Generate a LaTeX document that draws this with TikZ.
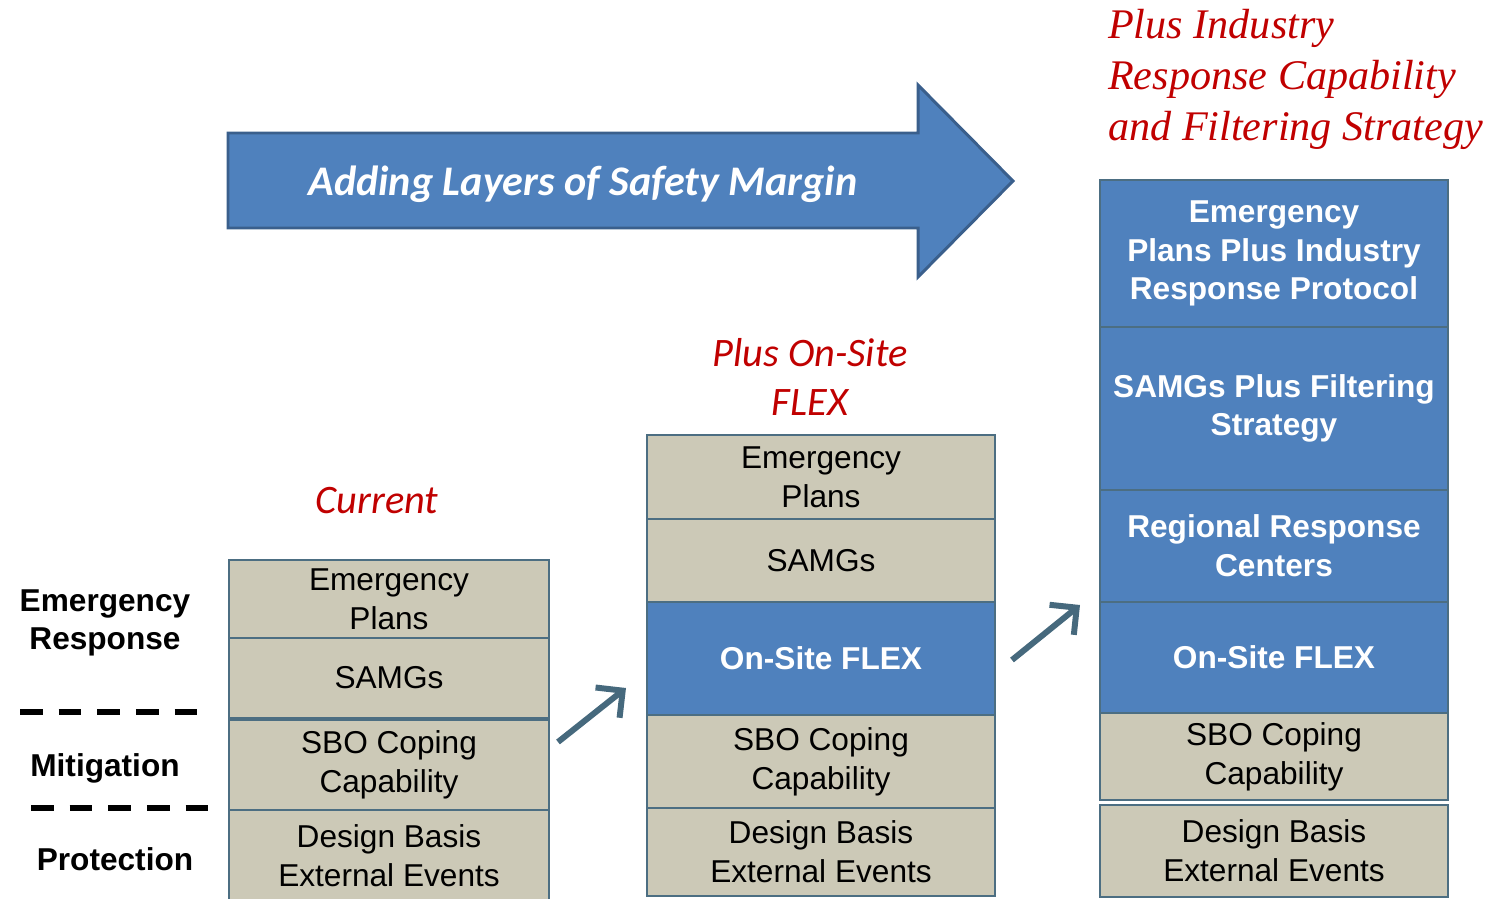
\documentclass[tikz,border=0pt]{standalone}
\usepackage{fontspec}
\setmainfont{Liberation Sans}
\newfontfamily\calibri{Carlito}
\newfontfamily\timesit{Liberation Serif}
\usetikzlibrary{arrows.meta}
\definecolor{layerblue}{HTML}{4F81BD}
\definecolor{arrowedge}{HTML}{3A5F8C}
\definecolor{layertan}{HTML}{CCC9B7}
\definecolor{layerline}{HTML}{4C6E82}
\definecolor{planred}{HTML}{C00000}
\definecolor{steparrow}{HTML}{46697D}
\begin{document}
\begin{tikzpicture}[x=0.02cm, y=-0.02cm,
  tanbox/.style={draw=layerline, line width=1pt, fill=layertan, align=center, inner sep=0pt, outer sep=0pt, font=\fontsize{18}{22}\selectfont},
  bluebox/.style={draw=layerline, line width=1pt, fill=layerblue, text=white, align=center, inner sep=0pt, outer sep=0pt, font=\fontsize{18}{22}\selectfont\bfseries},
  sidelabel/.style={align=center, font=\fontsize{18}{22}\selectfont\bfseries},
  stagelabel/.style={text=planred, align=center, font=\fontsize{23}{28}\selectfont\calibri\itshape},
  layerdash/.style={line width=3pt, dash pattern=on 13pt off 9pt},
  stepline/.style={steparrow, line width=3.4pt, -{Straight Barb[length=11pt,width=22pt]}}]
\useasboundingbox (0,0) rectangle (1499,899);

\draw[fill=layerblue, draw=arrowedge, line width=1.7pt, line join=miter] (228,133) -- (918,133) -- (918,85) -- (1013,181) -- (918,277) -- (918,228) -- (228,228) -- cycle;
\node[text=white, font=\fontsize{24}{29}\selectfont\calibri\bfseries\itshape] (margin) at (583,184) {Adding Layers of Safety Margin};

\node[tanbox, minimum width=6.4cm, minimum height=1.56cm] (ep1) at (389,599) {Emergency\\Plans};
\node[tanbox, minimum width=6.4cm, minimum height=1.6cm] (sam1) at (389,678) {SAMGs};
\node[tanbox, minimum width=6.4cm, minimum height=1.8cm] (sbo1) at (389,765) {SBO Coping\\Capability};
\node[tanbox, minimum width=6.4cm, minimum height=1.84cm] (dbe1) at (389,856) {Design Basis\\External Events};

\node[tanbox, minimum width=6.96cm, minimum height=1.68cm] (ep2) at (821,477) {Emergency\\Plans};
\node[tanbox, minimum width=6.96cm, minimum height=1.66cm] (sam2) at (821,560.5) {SAMGs};
\node[bluebox, minimum width=6.96cm, minimum height=2.26cm] (flex2) at (821,658.5) {On-Site FLEX};
\node[tanbox, minimum width=6.96cm, minimum height=1.86cm] (sbo2) at (821,761.5) {SBO Coping\\Capability};
\node[tanbox, minimum width=6.96cm, minimum height=1.76cm] (dbe2) at (821,852) {Design Basis\\External Events};

\node[bluebox, minimum width=6.96cm, minimum height=2.94cm] (ep3) at (1274,253.5) {Emergency\\Plans Plus Industry\\Response Protocol};
\node[bluebox, minimum width=6.96cm, minimum height=3.26cm] (sam3) at (1274,408.5) {SAMGs Plus Filtering\\Strategy};
\node[bluebox, minimum width=6.96cm, minimum height=2.24cm] (rrc3) at (1274,546) {Regional Response\\Centers};
\node[bluebox, minimum width=6.96cm, minimum height=2.22cm] (flex3) at (1274,657.5) {On-Site FLEX};
\node[tanbox, minimum width=6.96cm, minimum height=1.74cm] (sbo3) at (1274,756.5) {SBO Coping\\Capability};
\node[tanbox, minimum width=6.96cm, minimum height=1.84cm] (dbe3) at (1274,851) {Design Basis\\External Events};

\node[stagelabel] (current) at (377,501) {Current};
\node[stagelabel] (onsite) at (810,377) {Plus On-Site\\FLEX};
\node[text=planred, align=left, anchor=west, font=\fontsize{24}{29}\selectfont\timesit\itshape] (industry) at (1102,79) {Plus Industry\\Response Capability\\and Filtering Strategy};

\node[sidelabel] (emresp) at (105,623) {Emergency\\Response};
\node[sidelabel] (mitig) at (105,768) {Mitigation};
\node[sidelabel] (protect) at (115,859) {Protection};
\coordinate (dash1s) at (20,712);
\coordinate (dash1e) at (201,712);
\coordinate (dash2s) at (31,808);
\coordinate (dash2e) at (209,808);
\draw[layerdash] (dash1s) -- (dash1e);
\draw[layerdash] (dash2s) -- (dash2e);

\coordinate (step1s) at (558,742);
\coordinate (step1e) at (626,688);
\coordinate (step2s) at (1012,660);
\coordinate (step2e) at (1080,605);
\draw[stepline] (step1s) -- (step1e);
\draw[stepline] (step2s) -- (step2e);
\end{tikzpicture}
\end{document}
